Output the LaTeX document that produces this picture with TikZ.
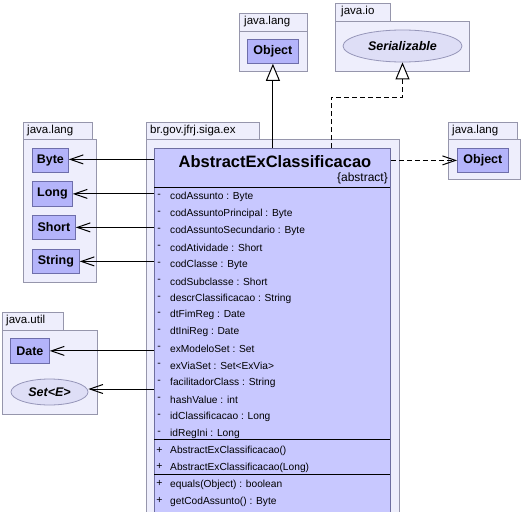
\documentclass[tikz,border=0pt]{standalone}
\usepackage{fontspec}
\setmainfont{Liberation Sans}
\usetikzlibrary{arrows.meta,shapes.geometric}
\definecolor{pkgfill}{RGB}{238,238,252}
\definecolor{pkgline}{RGB}{150,150,172}
\definecolor{clsfill}{RGB}{200,200,255}
\definecolor{clsline}{RGB}{110,110,160}
\definecolor{boxfill}{RGB}{180,180,250}
\definecolor{boxline}{RGB}{110,110,170}
\definecolor{ellfill}{RGB}{222,222,246}
\definecolor{ellline}{RGB}{150,150,185}
\begin{document}
\begin{tikzpicture}[x=1pt,y=-1pt,
  pkg/.style={draw=pkgline, fill=pkgfill, line width=0.8pt, anchor=north west, inner sep=0pt},
  pkglabel/.style={font=\fontsize{11.5}{13}\selectfont, anchor=west, inner sep=0pt},
  refbox/.style={draw=boxline, fill=boxfill, line width=0.8pt, anchor=north west, inner sep=0pt,
    font=\bfseries\fontsize{12.5}{14}\selectfont},
  iface/.style={ellipse, draw=ellline, fill=ellfill, line width=0.8pt, inner sep=0pt,
    font=\bfseries\itshape\fontsize{12.5}{14}\selectfont},
  clsbox/.style={draw=clsline, fill=clsfill, line width=0.8pt, anchor=north west, inner sep=0pt},
  member/.style={font=\fontsize{10.2}{12}\selectfont, anchor=west, inner sep=0pt},
  vis/.style={font=\fontsize{10.5}{12}\selectfont, anchor=center, inner sep=0pt},
  assoc/.style={line width=1pt, -{Straight Barb[length=13pt,width=9pt]}},
  depend/.style={line width=1pt, dash pattern=on 5pt off 3pt, -{Straight Barb[length=13pt,width=9pt]}},
  inherit/.style={line width=1pt, -{Triangle[open,length=17pt,width=14pt,fill=white]}},
  realize/.style={line width=1pt, dash pattern=on 5pt off 3pt, -{Triangle[open,length=17pt,width=14pt,fill=white]}},
  sep/.style={draw=black, line width=0.9pt}
]
\useasboundingbox (0,0) rectangle (524,511);
\clip (0,0) rectangle (524,511);
\fill[white] (0,0) rectangle (524,511);

% top java.lang
\node[pkg, minimum width=68pt, minimum height=18pt] (p1tab) at (239,13) {};
\node[pkg, minimum width=68pt, minimum height=40pt] (p1) at (239,31) {};
\node[pkglabel] (p1lbl) at (244,22) {java.lang};
\node[refbox, minimum width=51pt, minimum height=24pt] (obj1) at (247,39) {Object};

% java.io
\node[pkg, minimum width=55pt, minimum height=18pt] (p2tab) at (335,3) {};
\node[pkg, minimum width=134pt, minimum height=50pt] (p2) at (335,21) {};
\node[pkglabel] (p2lbl) at (341,12) {java.io};
\node[iface, minimum width=119pt, minimum height=32pt] (ser) at (402.5,46) {Serializable};

% main package
\node[pkg, minimum width=113pt, minimum height=17pt] (p3tab) at (146,122) {};
\node[pkg, minimum width=253pt, minimum height=400pt] (p3) at (146,139) {};
\node[pkglabel] (p3lbl) at (150,130.5) {br.gov.jfrj.siga.ex};

% left java.lang
\node[pkg, minimum width=69pt, minimum height=17pt] (p4tab) at (23,122) {};
\node[pkg, minimum width=73pt, minimum height=143pt] (p4) at (23,139) {};
\node[pkglabel] (p4lbl) at (27,130.5) {java.lang};
\node[refbox, minimum width=36pt, minimum height=24pt] (byte) at (32,148) {Byte};
\node[refbox, minimum width=40pt, minimum height=25pt] (long) at (32,181) {Long};
\node[refbox, minimum width=43pt, minimum height=24pt] (short) at (32,215) {Short};
\node[refbox, minimum width=47pt, minimum height=24pt] (string) at (32,249) {String};

% java.util
\node[pkg, minimum width=61pt, minimum height=18pt] (p5tab) at (2,312) {};
\node[pkg, minimum width=95pt, minimum height=84pt] (p5) at (2,330) {};
\node[pkglabel] (p5lbl) at (6,321) {java.util};
\node[refbox, minimum width=39pt, minimum height=25pt] (date) at (10,338) {Date};
\node[iface, minimum width=77pt, minimum height=26pt] (set) at (49.5,392) {Set<E>};

% right java.lang
\node[pkg, minimum width=69pt, minimum height=17pt] (p6tab) at (448,122) {};
\node[pkg, minimum width=72pt, minimum height=40pt] (p6) at (448,139) {};
\node[pkglabel] (p6lbl) at (452,130.5) {java.lang};
\node[refbox, minimum width=51pt, minimum height=24pt] (obj2) at (457,148) {Object};

% class box
\node[clsbox, minimum width=236pt, minimum height=380pt] (cls) at (154,148) {};
\node[font=\bfseries\fontsize{16.5}{18}\selectfont, inner sep=0pt] (clsname) at (275,162) {AbstractExClassificacao};
\node[font=\fontsize{12}{14}\selectfont, inner sep=0pt, anchor=east] (clsabs) at (388,178.5) {\{abstract\}};
\draw[sep] (154,187) coordinate (s1a) -- (390,187) coordinate (s1b);
\draw[sep] (154,439) coordinate (s2a) -- (390,439) coordinate (s2b);
\draw[sep] (154,474) coordinate (s3a) -- (390,474) coordinate (s3b);

\foreach \t [count=\i from 0] in {codAssunto : Byte, codAssuntoPrincipal : Byte, codAssuntoSecundario : Byte,
  codAtividade : Short, codClasse : Byte, codSubclasse : Short, descrClassificacao : String,
  dtFimReg : Date, dtIniReg : Date, exModeloSet : Set, exViaSet : Set<ExVia>,
  facilitadorClass : String, hashValue : int, idClassificacao : Long, idRegIni : Long} {
  \node[vis] (av\i) at (159,196+16.9*\i) {-};
  \node[member] (at\i) at (170,197+16.9*\i) {\t};
}
\node[vis] (cv0) at (159.5,450) {+};
\node[member] (ct0) at (170,451) {AbstractExClassificacao()};
\node[vis] (cv1) at (159.5,466.5) {+};
\node[member] (ct1) at (170,467.5) {AbstractExClassificacao(Long)};
\node[vis] (mv0) at (159.5,483.5) {+};
\node[member] (mt0) at (170,484.5) {equals(Object) : boolean};
\node[vis] (mv1) at (159.5,500.5) {+};
\node[member] (mt1) at (170,501.5) {getCodAssunto() : Byte};

% connectors
\draw[inherit] (obj1.south |- cls.north) -- (obj1.south);
\coordinate (bend) at (331,97);
\draw[realize] (bend |- cls.north) -- (bend) -| (ser.south);
\draw[assoc] ([yshift=1pt]byte.east -| cls.west) -- ([yshift=1pt]byte.east);
\draw[assoc] (long.east -| cls.west) -- (long.east);
\draw[assoc] (short.east -| cls.west) -- (short.east);
\draw[assoc] (string.east -| cls.west) -- (string.east);
\draw[assoc] (date.east -| cls.west) -- (date.east);
\draw[assoc] ([yshift=3pt]set.east -| cls.west) -- ([yshift=3pt]set.east);
\draw[depend] (obj2.west -| cls.east) -- (obj2.west);
\end{tikzpicture}
\end{document}
